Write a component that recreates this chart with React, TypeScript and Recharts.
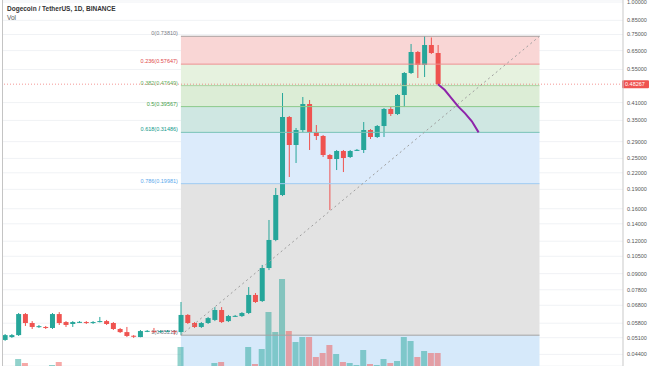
import React from 'react';
import {
  ComposedChart, Bar, Line, XAxis, YAxis, CartesianGrid, ReferenceArea, ReferenceLine,
} from 'recharts';

// DOGE/USDT daily candles
const opens = [
  0.0500, 0.0513, 0.0522, 0.0629, 0.0581, 0.0563, 0.0561, 0.0556, 0.0629, 0.0586,
  0.0576, 0.0585, 0.0586, 0.0581, 0.0586, 0.0591, 0.0581, 0.0551, 0.0536, 0.0519,
  0.0513, 0.0540, 0.0541, 0.0536, 0.0540, 0.0541, 0.0536, 0.0624, 0.0581, 0.0561,
  0.0581, 0.0597, 0.0652, 0.0591, 0.0617, 0.0618, 0.0635, 0.0745, 0.0706, 0.0946,
  0.1213, 0.1807, 0.3608, 0.2815, 0.3215, 0.4048, 0.3158, 0.3049, 0.2576, 0.2486,
  0.2669, 0.2531, 0.2690, 0.2693, 0.3215, 0.3022, 0.3331, 0.3873, 0.3705, 0.4385,
  0.5329, 0.6419, 0.5721, 0.6830, 0.6363,
];
const highs = [
  0.0527, 0.0527, 0.0635, 0.0635, 0.0591, 0.0571, 0.0566, 0.0635, 0.0640, 0.0591,
  0.0591, 0.0591, 0.0591, 0.0591, 0.0613, 0.0597, 0.0586, 0.0556, 0.0561, 0.0522,
  0.0546, 0.0546, 0.0556, 0.0546, 0.0546, 0.0546, 0.0700, 0.0629, 0.0586, 0.0586,
  0.0613, 0.0669, 0.0669, 0.0624, 0.0624, 0.0640, 0.0799, 0.0758, 0.0972, 0.1448,
  0.1923, 0.4463, 0.3640, 0.3273, 0.4308, 0.4195, 0.3361, 0.3076, 0.2599, 0.2693,
  0.2693, 0.2693, 0.2717, 0.3451, 0.3244, 0.3361, 0.3907, 0.3942, 0.4424, 0.5376,
  0.6892, 0.6477, 0.7381, 0.7300, 0.6830,
];
const lows = [
  0.0496, 0.0509, 0.0518, 0.0566, 0.0551, 0.0556, 0.0551, 0.0551, 0.0571, 0.0561,
  0.0561, 0.0581, 0.0576, 0.0576, 0.0584, 0.0571, 0.0546, 0.0532, 0.0513, 0.0509,
  0.0512, 0.0536, 0.0532, 0.0532, 0.0536, 0.0524, 0.05215, 0.0576, 0.0556, 0.0556,
  0.0576, 0.0591, 0.0581, 0.0586, 0.0613, 0.0613, 0.0629, 0.0694, 0.0700, 0.0929,
  0.1200, 0.1790, 0.2120, 0.2400, 0.3158, 0.2693, 0.2942, 0.2531, 0.1582, 0.2255,
  0.2215, 0.2508, 0.2669, 0.2622, 0.2969, 0.2995, 0.3022, 0.3640, 0.3672, 0.3942,
  0.5282, 0.5098, 0.5143, 0.6308, 0.4800,
];
const closes = [
  0.0522, 0.0522, 0.0629, 0.0581, 0.0561, 0.0565, 0.0556, 0.0629, 0.0581, 0.0571,
  0.0586, 0.0587, 0.0581, 0.0586, 0.0591, 0.0576, 0.0551, 0.0536, 0.0518, 0.0517,
  0.0541, 0.0542, 0.0536, 0.0541, 0.0542, 0.0536, 0.0624, 0.0581, 0.0561, 0.0581,
  0.0607, 0.0652, 0.0586, 0.0618, 0.0619, 0.0635, 0.0745, 0.0700, 0.0946, 0.1213,
  0.1807, 0.3608, 0.2815, 0.3215, 0.4048, 0.3158, 0.3049, 0.2576, 0.2486, 0.2669,
  0.2508, 0.2669, 0.2696, 0.3215, 0.3022, 0.3331, 0.3873, 0.3705, 0.4385, 0.5329,
  0.6419, 0.5721, 0.6830, 0.6363, 0.48267,
];
// volume (only the tops poking into the crop are visible)
const volumes = [
  0, 0, 70, 30, 0, 0, 0, 10, 40, 0,
  0, 0, 0, 0, 0, 0, 0, 0, 0, 0,
  0, 0, 0, 0, 0, 0, 190, 0, 0, 0,
  0, 30, 40, 0, 0, 0, 190, 20, 170, 540,
  340, 870, 350, 240, 290, 290, 90, 130, 210, 120,
  40, 30, 10, 160, 20, 10, 70, 30, 50, 290,
  250, 90, 150, 130, 130,
];

// purple projected path
const projIdx = [64, 65, 66, 67, 68, 69, 70];
const projPrice = [0.48267, 0.4584, 0.4258, 0.3953, 0.3728, 0.3473, 0.31486];

// fibonacci retracement
const fibRatios = ['0', '0.236', '0.382', '0.5', '0.618', '0.786', '1'];
const fibPrices = [0.7381, 0.57647, 0.47649, 0.39567, 0.31486, 0.19981, 0.05215];
const fibStart = 26;
const fibEnd = 79;

const priceTicks = [
  1.0, 0.85, 0.75, 0.65, 0.55, 0.41, 0.35, 0.29, 0.25, 0.22, 0.19, 0.16, 0.14,
  0.12, 0.105, 0.09, 0.078, 0.068, 0.058, 0.051, 0.044,
];
const lastPrice = 0.48267;

const GREEN = '#26a69a';
const RED = '#ef5350';
const FONT = '"Liberation Sans", Arial, sans-serif';

const fibLineColors = ['#a59d9d', '#ec8f8f', '#a9d3a0', '#8cc98a', '#78c2b6', '#9ecbf2', '#a3a3a3'];
const fibTextColors = ['#787b86', '#e04848', '#5fae5a', '#43a047', '#11998a', '#5aa9ec', '#787b86'];
const zoneColors = ['#f9d6d5', '#e6f2df', '#dcedd6', '#cfe7e2', '#dcebfb', '#e3e3e3', '#d6e9fa'];

const DOMAIN_MIN = 0.03969;
const DOMAIN_MAX = 1.0179;

const candles = opens.map((o, i) => ({
  i,
  open: o,
  high: highs[i],
  low: lows[i],
  close: closes[i],
  vol: volumes[i],
}));

const projection = projIdx.map((i, k) => ({ i, proj: projPrice[k] }));

const CandleShape = (props: any) => {
  const { x, y, width, height, payload } = props;
  if (!payload) return null;
  const { open, close, high, low } = payload;
  const color = close >= open ? GREEN : RED;
  const top = Math.min(y, y + height);
  const h = Math.abs(height);
  const span = Math.log(high) - Math.log(low);
  const toY = (v: number) => top + (h * (Math.log(high) - Math.log(v))) / span;
  const yo = toY(open);
  const yc = toY(close);
  const bodyTop = Math.min(yo, yc);
  const bodyH = Math.max(1, Math.abs(yo - yc));
  const cx = x + width / 2;
  return (
    <g>
      <line x1={cx} x2={cx} y1={top} y2={top + h} stroke={color} strokeWidth={1} />
      <rect x={x} y={bodyTop} width={width} height={bodyH} fill={color} />
    </g>
  );
};

const VolumeShape = (props: any) => {
  const { x, y, width, height, payload } = props;
  if (!payload || !height) return null;
  const color = payload.close >= payload.open ? 'rgba(38,166,154,0.5)' : 'rgba(239,83,80,0.5)';
  return <rect x={x} y={y} width={width} height={height} fill={color} />;
};

const fibLabel = (k: number) => (props: any) => {
  const vb = props.viewBox || {};
  return (
    <text
      x={vb.x - 3}
      y={vb.y - 1}
      textAnchor="end"
      fontSize={5.5}
      fontFamily={FONT}
      fill={fibTextColors[k]}
    >
      {`${fibRatios[k]}(${fibPrices[k].toFixed(5)})`}
    </text>
  );
};

const PriceTag = (props: any) => {
  const vb = props.viewBox || {};
  const left = vb.x + vb.width - 1;
  return (
    <g>
      <rect x={left} y={vb.y - 4} width={27} height={8} rx={1} fill={RED} />
      <text x={left + 3} y={vb.y + 2} fontSize={5.5} fontFamily={FONT} fill="#fff">
        {lastPrice.toFixed(5)}
      </text>
    </g>
  );
};

const App: React.FC = () => {
  return (
    <div
      style={{
        position: 'fixed',
        left: 0,
        top: 0,
        width: 654,
        height: 366,
        overflow: 'hidden',
        background: '#fff',
      }}
    >
      <ComposedChart
        width={654}
        height={366}
        data={candles}
        margin={{ top: 0, right: 0, left: 3, bottom: 0 }}
      >
        <XAxis
          xAxisId="x"
          dataKey="i"
          type="number"
          domain={[-0.2956, 91.34]}
          allowDataOverflow
          hide
        />
        <XAxis
          xAxisId="v"
          dataKey="i"
          type="number"
          domain={[-0.2956, 91.34]}
          allowDataOverflow
          hide
        />
        <YAxis
          yAxisId="price"
          orientation="right"
          scale="log"
          domain={[DOMAIN_MIN, DOMAIN_MAX]}
          allowDataOverflow
          ticks={priceTicks}
          interval={0}
          width={31}
          tickLine={false}
          tickSize={2}
          tickMargin={2}
          axisLine={{ stroke: '#c9c9c9' }}
          tick={{ fontSize: 5.5, fill: '#555', fontFamily: FONT }}
          tickFormatter={(v: number) => v.toFixed(5)}
        />
        <YAxis yAxisId="vol" domain={[0, 3660]} hide />

        <CartesianGrid
          xAxisId="x"
          yAxisId="price"
          vertical={false}
          stroke="#f0f2f5"
        />

        {zoneColors.map((c, k) => (
          <ReferenceArea
            key={`z${k}`}
            xAxisId="x"
            yAxisId="price"
            x1={fibStart}
            x2={fibEnd}
            y1={k < 6 ? fibPrices[k + 1] : DOMAIN_MIN}
            y2={fibPrices[k]}
            fill={c}
            fillOpacity={1}
            stroke="none"
          />
        ))}

        <Bar
          xAxisId="v"
          yAxisId="vol"
          dataKey="vol"
          barSize={6}
          shape={<VolumeShape />}
          isAnimationActive={false}
        />

        {fibPrices.map((p, k) => (
          <ReferenceLine
            key={`f${k}`}
            xAxisId="x"
            yAxisId="price"
            segment={[{ x: fibStart, y: p }, { x: fibEnd, y: p }]}
            stroke={fibLineColors[k]}
            strokeWidth={1}
            label={fibLabel(k)}
          />
        ))}

        <ReferenceLine
          xAxisId="x"
          yAxisId="price"
          segment={[{ x: fibStart, y: fibPrices[6] }, { x: fibEnd, y: fibPrices[0] }]}
          stroke="#9e9e9e"
          strokeDasharray="2 3"
        />

        <ReferenceLine
          xAxisId="x"
          yAxisId="price"
          y={lastPrice}
          stroke={RED}
          strokeOpacity={0.6}
          strokeDasharray="1 2"
          label={<PriceTag />}
        />

        <Bar
          xAxisId="x"
          yAxisId="price"
          dataKey={(d: any) => [d.low, d.high]}
          barSize={5}
          shape={<CandleShape />}
          isAnimationActive={false}
        />

        <Line
          xAxisId="x"
          yAxisId="price"
          data={projection}
          dataKey="proj"
          stroke="#8e24aa"
          strokeWidth={2}
          dot={false}
          isAnimationActive={false}
        />
      </ComposedChart>

      <div
        style={{
          position: 'absolute',
          left: 2,
          top: 0,
          width: 1,
          height: 366,
          background: '#c4c4c4',
        }}
      />
      <div
        style={{
          position: 'absolute',
          left: 7,
          top: 4,
          fontFamily: FONT,
          fontSize: 6.5,
          lineHeight: '9px',
          color: '#333',
        }}
      >
        <div style={{ fontWeight: 600 }}>Dogecoin / TetherUS, 1D, BINANCE</div>
        <div style={{ color: '#555' }}>Vol</div>
      </div>
    </div>
  );
};

export default App;
